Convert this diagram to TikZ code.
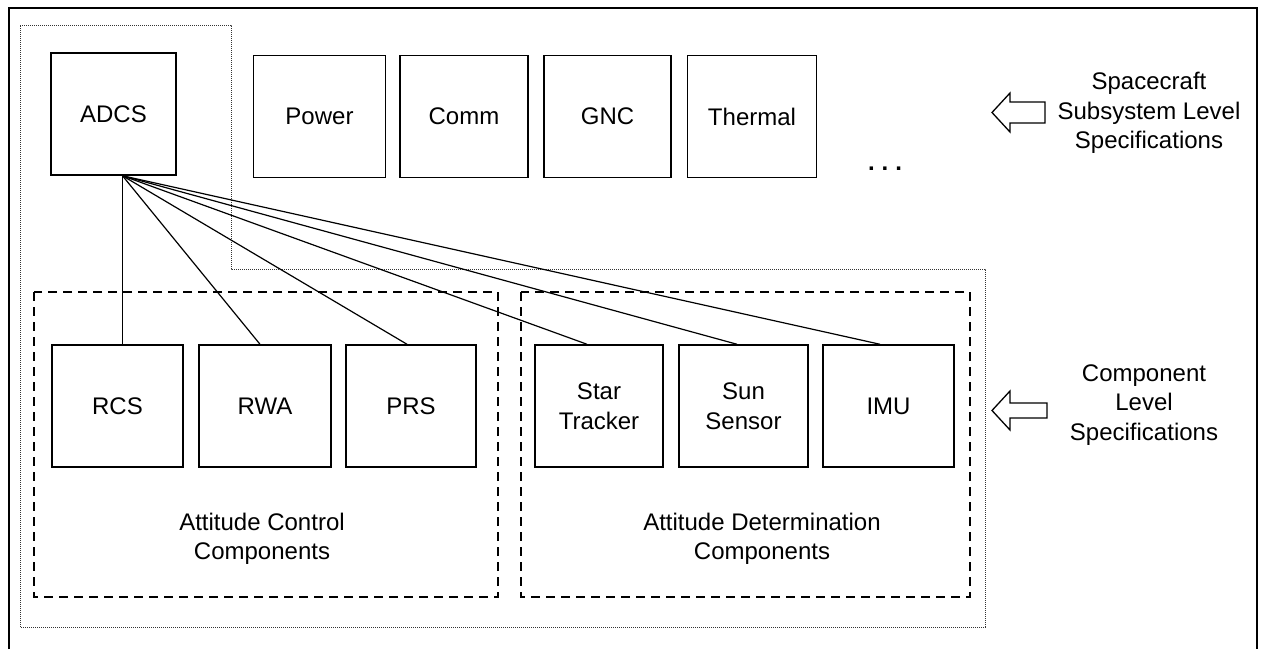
\documentclass[tikz,border=0pt]{standalone}
\usepackage{fontspec}
\setmainfont{Liberation Sans}
\begin{document}
\begin{tikzpicture}[x=1pt,y=-1pt,
  lbl/.style={font=\fontsize{24}{29.5}\selectfont, align=center, inner sep=0pt},
  box/.style={lbl, draw, line width=1.5pt, minimum width=129pt, minimum height=122pt},
  link/.style={line width=1.2pt},
  region/.style={draw=black!80, line width=1pt, dash pattern=on 1pt off 1pt},
  groupbox/.style={draw, line width=1.2pt, dash pattern=on 9pt off 6pt},
  blockarrow/.style={draw, line width=1.3pt, line join=miter, fill=white}]
\useasboundingbox (0,0) rectangle (1262,649);

% page frame (open at the bottom)
\draw[line width=1.5pt] (9,649) -- (9,8) -- (1257,8) -- (1257,649);

% dotted region holding ADCS and its components
\draw[region] (20,25) -- (231,25) -- (231,269) -- (985,269) -- (985,627) -- (20,627) -- cycle;

% component groups
\draw[groupbox] (34,292) rectangle (498,597);
\draw[groupbox] (521,292) rectangle (970,597);

% subsystem level
\node[box, minimum width=125pt] (adcs) at (113.5,114) {ADCS};
\node[box, minimum width=132pt] (power) at (319.5,116.5) {Power};
\node[box, minimum width=128pt] (comm) at (464,116.5) {Comm};
\node[box, minimum width=127pt] (gnc) at (607.5,116.5) {GNC};
\node[box] (thermal) at (752,116.5) {Thermal};
\node[lbl, anchor=base, font=\fontsize{24}{29.5}\selectfont\bfseries] (more) at (885,170) {.\hspace{7pt}.\hspace{7pt}.};

% component level
\node[box, minimum width=131pt] (rcs) at (117.5,406) {RCS};
\node[box, minimum width=132pt] (rwa) at (265,406) {RWA};
\node[box, minimum width=130pt] (prs) at (411,406) {PRS};
\node[box, minimum width=128pt] (star) at (599,406) {Star\\Tracker};
\node[box] (sun) at (743.5,406) {Sun\\Sensor};
\node[box, minimum width=131pt] (imu) at (888.5,406) {IMU};

\node[lbl] (acc) at (262,539) {Attitude Control\\Components};
\node[lbl] (adc) at (762,539) {Attitude Determination\\Components};

% links from ADCS to its components
\coordinate (hub) at ([xshift=9pt]adcs.south);
\draw[link] (hub) -- (hub |- rcs.north);
\draw[link] (hub) -- ([xshift=-5pt]rwa.north);
\draw[link] (hub) -- ([xshift=-4pt]prs.north);
\draw[link] (hub) -- ([xshift=-12pt]star.north);
\draw[link] (hub) -- ([xshift=-6.5pt]sun.north);
\draw[link] (hub) -- ([xshift=-8.5pt]imu.north);

% level markers
\draw[blockarrow] (992,112.5) -- (1010,93) -- (1010,102) -- (1045,102) -- (1045,123) -- (1010,123) -- (1010,132) -- cycle;
\node[lbl] (sslevel) at (1149,113) {Spacecraft\\Subsystem Level\\Specifications};

\draw[blockarrow] (992,410.5) -- (1010,391) -- (1010,403) -- (1047,403) -- (1047,418) -- (1010,418) -- (1010,430) -- cycle;
\node[lbl] (cplevel) at (1144,405) {Component\\Level\\Specifications};
\end{tikzpicture}
\end{document}
